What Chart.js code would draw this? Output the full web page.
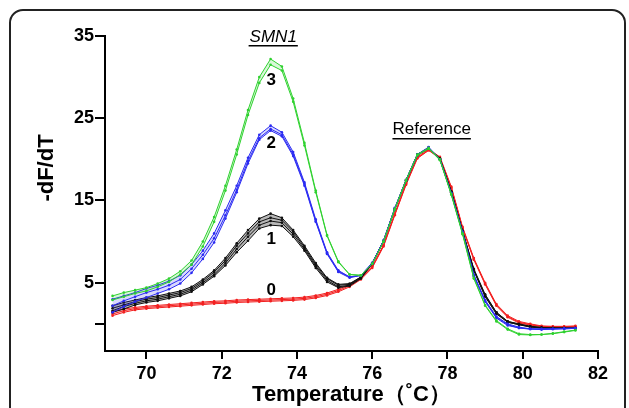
<!DOCTYPE html>
<html>
<head>
<meta charset="utf-8">
<script src="https://cdn.jsdelivr.net/npm/chart.js@4"></script>
<style>
  html, body { margin: 0; padding: 0; background: #fff; overflow: hidden; }
  #frame { position: absolute; left: 9px; top: 9px; width: 613px; height: 430px;
           border: 2px solid #222; border-radius: 14px; }
  #wrap { position: absolute; left: 0; top: 0; width: 629px; height: 408px; }
</style>
</head>
<body>
<div id="frame"></div>
<div id="wrap"><canvas id="chart" width="629" height="408"></canvas></div>
<script>
// temperature (°C) of each reading
const temps = [69.1, 69.4, 69.7, 70.0, 70.3, 70.6, 70.9, 71.2, 71.5, 71.8,
  72.1, 72.4, 72.7, 73.0, 73.3, 73.6, 73.9, 74.2, 74.5, 74.8,
  75.1, 75.4, 75.7, 76.0, 76.3, 76.6, 76.9, 77.2, 77.5, 77.8,
  78.1, 78.4, 78.7, 79.0, 79.3, 79.6, 79.9, 80.2, 80.5, 80.8, 81.1, 81.4];

// SMN1 copy number 3 (green)
const green1 = [3.4, 3.8, 4.1, 4.4, 4.9, 5.5, 6.4, 7.7, 10.0, 13.0,
  16.8, 21.2, 26.0, 30.0, 32.2, 31.3, 27.4, 22.0, 16.2, 10.8,
  7.6, 6.0, 5.9, 7.3, 10.0, 14.0, 17.5, 20.6, 21.4, 20.0,
  15.8, 11.0, 5.6, 2.3, 0.4, -0.6, -1.2, -1.3, -1.3, -1.15, -0.95, -0.75];
const green2 = [2.9, 3.3, 3.7, 4.0, 4.5, 5.1, 6.0, 7.2, 9.4, 12.4,
  16.2, 20.6, 25.4, 29.3, 31.5, 30.8, 27.0, 21.7, 16.0, 10.7,
  7.5, 6.0, 5.9, 7.3, 10.0, 13.9, 17.4, 20.5, 21.3, 19.9,
  15.7, 10.9, 5.5, 2.2, 0.3, -0.7, -1.3, -1.35, -1.3, -1.2, -1.0, -0.8];

// SMN1 copy number 2 (blue)
const blue1 = [3.0, 3.4, 3.8, 4.3, 4.7, 5.2, 5.9, 7.2, 8.9, 11.0,
  13.8, 16.8, 20.2, 23.0, 24.1, 23.3, 20.9, 17.2, 12.7, 8.7,
  6.5, 5.7, 5.9, 7.4, 10.1, 14.1, 17.5, 20.6, 21.5, 20.0,
  15.9, 11.2, 6.0, 2.9, 0.9, 0.0, -0.4, -0.6, -0.6, -0.6, -0.55, -0.5];
const blue2 = [2.2, 2.8, 3.3, 3.8, 4.2, 4.7, 5.4, 6.7, 8.4, 10.4,
  13.2, 16.3, 19.8, 22.6, 23.7, 23.0, 20.6, 17.0, 12.5, 8.6,
  6.4, 5.7, 5.9, 7.4, 10.1, 14.0, 17.5, 20.6, 21.4, 20.0,
  15.9, 11.1, 5.9, 2.8, 0.8, -0.1, -0.5, -0.6, -0.65, -0.6, -0.6, -0.55];
const blue3 = [1.4, 2.1, 2.7, 3.2, 3.7, 4.2, 4.9, 6.2, 7.9, 9.9,
  12.8, 16.0, 19.5, 22.4, 23.5, 22.8, 20.4, 16.8, 12.4, 8.5,
  6.3, 5.6, 5.9, 7.3, 10.0, 14.0, 17.4, 20.5, 21.4, 20.0,
  15.8, 11.1, 5.8, 2.7, 0.7, -0.2, -0.5, -0.65, -0.7, -0.65, -0.6, -0.55];

// SMN1 copy number 1 (black)
const black1 = [2.2, 2.6, 2.9, 3.2, 3.4, 3.7, 4.0, 4.5, 5.4, 6.5,
  8.0, 9.8, 11.4, 12.8, 13.4, 12.9, 11.4, 9.5, 7.4, 5.6,
  4.8, 4.9, 5.7, 7.4, 10.1, 14.0, 17.5, 20.6, 21.4, 20.1,
  16.1, 11.3, 6.7, 3.6, 1.4, 0.3, 0.0, -0.3, -0.45, -0.5, -0.5, -0.5];
const black2 = [1.9, 2.3, 2.7, 3.0, 3.2, 3.5, 3.8, 4.3, 5.2, 6.3,
  7.7, 9.5, 11.0, 12.4, 12.9, 12.6, 11.2, 9.3, 7.2, 5.5,
  4.7, 4.8, 5.7, 7.4, 10.1, 14.0, 17.5, 20.6, 21.4, 20.1,
  16.1, 11.3, 6.6, 3.5, 1.4, 0.3, -0.05, -0.3, -0.45, -0.5, -0.5, -0.5];
const black3 = [1.6, 2.1, 2.5, 2.8, 3.0, 3.3, 3.6, 4.1, 5.0, 6.0,
  7.4, 9.1, 10.6, 12.0, 12.5, 12.3, 10.9, 9.1, 7.0, 5.3,
  4.5, 4.7, 5.6, 7.3, 10.0, 14.0, 17.4, 20.5, 21.4, 20.0,
  16.0, 11.2, 6.5, 3.4, 1.3, 0.2, -0.1, -0.35, -0.5, -0.5, -0.55, -0.5];
const black4 = [1.4, 1.8, 2.3, 2.6, 2.8, 3.1, 3.4, 3.9, 4.8, 5.8,
  7.1, 8.7, 10.1, 11.6, 12.0, 11.9, 10.6, 8.9, 6.8, 5.1,
  4.4, 4.6, 5.5, 7.3, 10.0, 13.9, 17.4, 20.5, 21.3, 20.0,
  16.0, 11.2, 6.5, 3.3, 1.2, 0.2, -0.1, -0.4, -0.5, -0.55, -0.55, -0.55];

// SMN1 copy number 0 (red)
const red1 = [1.5, 1.8, 2.0, 2.15, 2.25, 2.35, 2.45, 2.55, 2.65, 2.75,
  2.8, 2.9, 2.95, 3.0, 3.05, 3.1, 3.15, 3.25, 3.45, 3.75,
  4.2, 4.8, 5.6, 7.0, 9.6, 13.4, 17.1, 20.3, 21.2, 20.3,
  16.7, 11.8, 8.0, 5.0, 2.4, 1.0, 0.3, 0.0, -0.25, -0.3, -0.3, -0.25];
const red2 = [1.2, 1.6, 1.85, 2.0, 2.1, 2.2, 2.3, 2.4, 2.5, 2.6,
  2.65, 2.75, 2.8, 2.85, 2.9, 2.95, 3.0, 3.1, 3.3, 3.6,
  4.05, 4.65, 5.5, 6.9, 9.5, 13.3, 17.0, 20.2, 21.1, 20.2,
  16.6, 11.7, 7.9, 4.9, 2.3, 0.9, 0.2, -0.1, -0.3, -0.35, -0.35, -0.3];
const red3 = [1.0, 1.4, 1.7, 1.85, 1.95, 2.05, 2.15, 2.25, 2.35, 2.45,
  2.5, 2.6, 2.65, 2.7, 2.75, 2.8, 2.85, 2.95, 3.15, 3.45,
  3.9, 4.5, 5.4, 6.8, 9.4, 13.2, 16.9, 20.1, 21.1, 20.1,
  16.5, 11.6, 7.8, 4.8, 2.2, 0.8, 0.1, -0.15, -0.35, -0.4, -0.4, -0.35];

const xTicks = [70, 72, 74, 76, 78, 80, 82];
const yTicks = [0, 5, 15, 25, 35];

const groups = [
  { color: '#2fd12f', fillColor: 'rgba(47,209,47,0.18)', series: [green1, green2] },
  { color: '#2b2bf2', fillColor: 'rgba(43,43,242,0.18)', series: [blue1, blue2, blue3] },
  { color: '#111111', fillColor: 'rgba(0,0,0,0.28)', series: [black1, black2, black3, black4] },
  { color: '#f22020', fillColor: 'rgba(242,32,32,0.18)', series: [red1, red2, red3] }
];

const datasets = [];
groups.forEach((g) => {
  g.series.forEach((vals, i) => {
    datasets.push({
      data: temps.map((t, k) => ({ x: t, y: vals[k] })),
      borderColor: g.color,
      backgroundColor: g.fillColor,
      pointBackgroundColor: g.color,
      pointBorderWidth: 0,
      pointRadius: 1.3,
      borderWidth: 1,
      tension: 0,
      fill: i === 0 ? false : '-1'
    });
  });
});

// text labels drawn on top of the plot
const labelPlugin = {
  id: 'labels',
  afterDraw(chart) {
    const { ctx, scales: { x, y } } = chart;
    ctx.save();
    ctx.fillStyle = '#000';
    ctx.textAlign = 'center';
    ctx.textBaseline = 'middle';

    // y axis title
    ctx.save();
    ctx.translate(47, 168);
    ctx.rotate(-Math.PI / 2);
    ctx.font = 'bold 22px "Liberation Sans", Arial, sans-serif';
    ctx.fillText('-dF/dT', 0, 0);
    ctx.restore();

    // copy number labels
    ctx.font = 'bold 17px "Liberation Sans", Arial, sans-serif';
    [['3', 29.6], ['2', 22.0], ['1', 10.3], ['0', 4.1]].forEach(([t, v]) => {
      ctx.fillText(t, x.getPixelForValue(73.32), y.getPixelForValue(v));
    });

    // group headings with underline
    ctx.font = 'italic 17px "Liberation Sans", Arial, sans-serif';
    const sx = x.getPixelForValue(73.37);
    ctx.fillText('SMN1', sx, 37);
    const sw = ctx.measureText('SMN1').width;
    ctx.fillRect(sx - sw / 2 - 1, 45, sw + 2, 1.5);

    ctx.font = '17px "Liberation Sans", Arial, sans-serif';
    const rx = x.getPixelForValue(77.58);
    ctx.fillText('Reference', rx, 129);
    const rw = ctx.measureText('Reference').width;
    ctx.fillRect(rx - rw / 2, 138, rw, 1.5);
    ctx.restore();
  }
};

new Chart(document.getElementById('chart'), {
  type: 'line',
  data: { datasets: datasets },
  options: {
    responsive: false,
    animation: false,
    devicePixelRatio: 1,
    layout: { padding: { left: 0, top: 36, right: 31, bottom: 0 } },
    plugins: { legend: { display: false }, tooltip: { enabled: false } },
    scales: {
      x: {
        type: 'linear',
        min: 68.9,
        max: 82,
        afterBuildTicks: (s) => { s.ticks = xTicks.map((v) => ({ value: v })); },
        afterFit: (s) => { s.height = 57; },
        grid: { display: true, drawOnChartArea: false, drawTicks: true, tickLength: 8, color: '#000', lineWidth: 2 },
        border: { color: '#000', width: 2 },
        ticks: { color: '#000', padding: 4, font: { family: 'Liberation Sans', size: 18, weight: 'bold' } },
        title: {
          display: true,
          text: 'Temperature（˚C）',
          color: '#000',
          padding: { top: 0, bottom: 0 },
          font: { family: 'Liberation Sans', size: 22, weight: 'bold' }
        }
      },
      y: {
        min: -3.3,
        max: 35,
        afterBuildTicks: (s) => { s.ticks = yTicks.map((v) => ({ value: v })); },
        afterFit: (s) => { s.width = 105; },
        grid: { display: true, drawOnChartArea: false, drawTicks: true, tickLength: 10, color: '#000', lineWidth: 2 },
        border: { color: '#000', width: 2 },
        ticks: {
          color: '#000',
          padding: 1,
          font: { family: 'Liberation Sans', size: 18, weight: 'bold' },
          callback: (v) => (v === 0 ? '' : v)
        }
      }
    }
  },
  plugins: [labelPlugin]
});
</script>
</body>
</html>
